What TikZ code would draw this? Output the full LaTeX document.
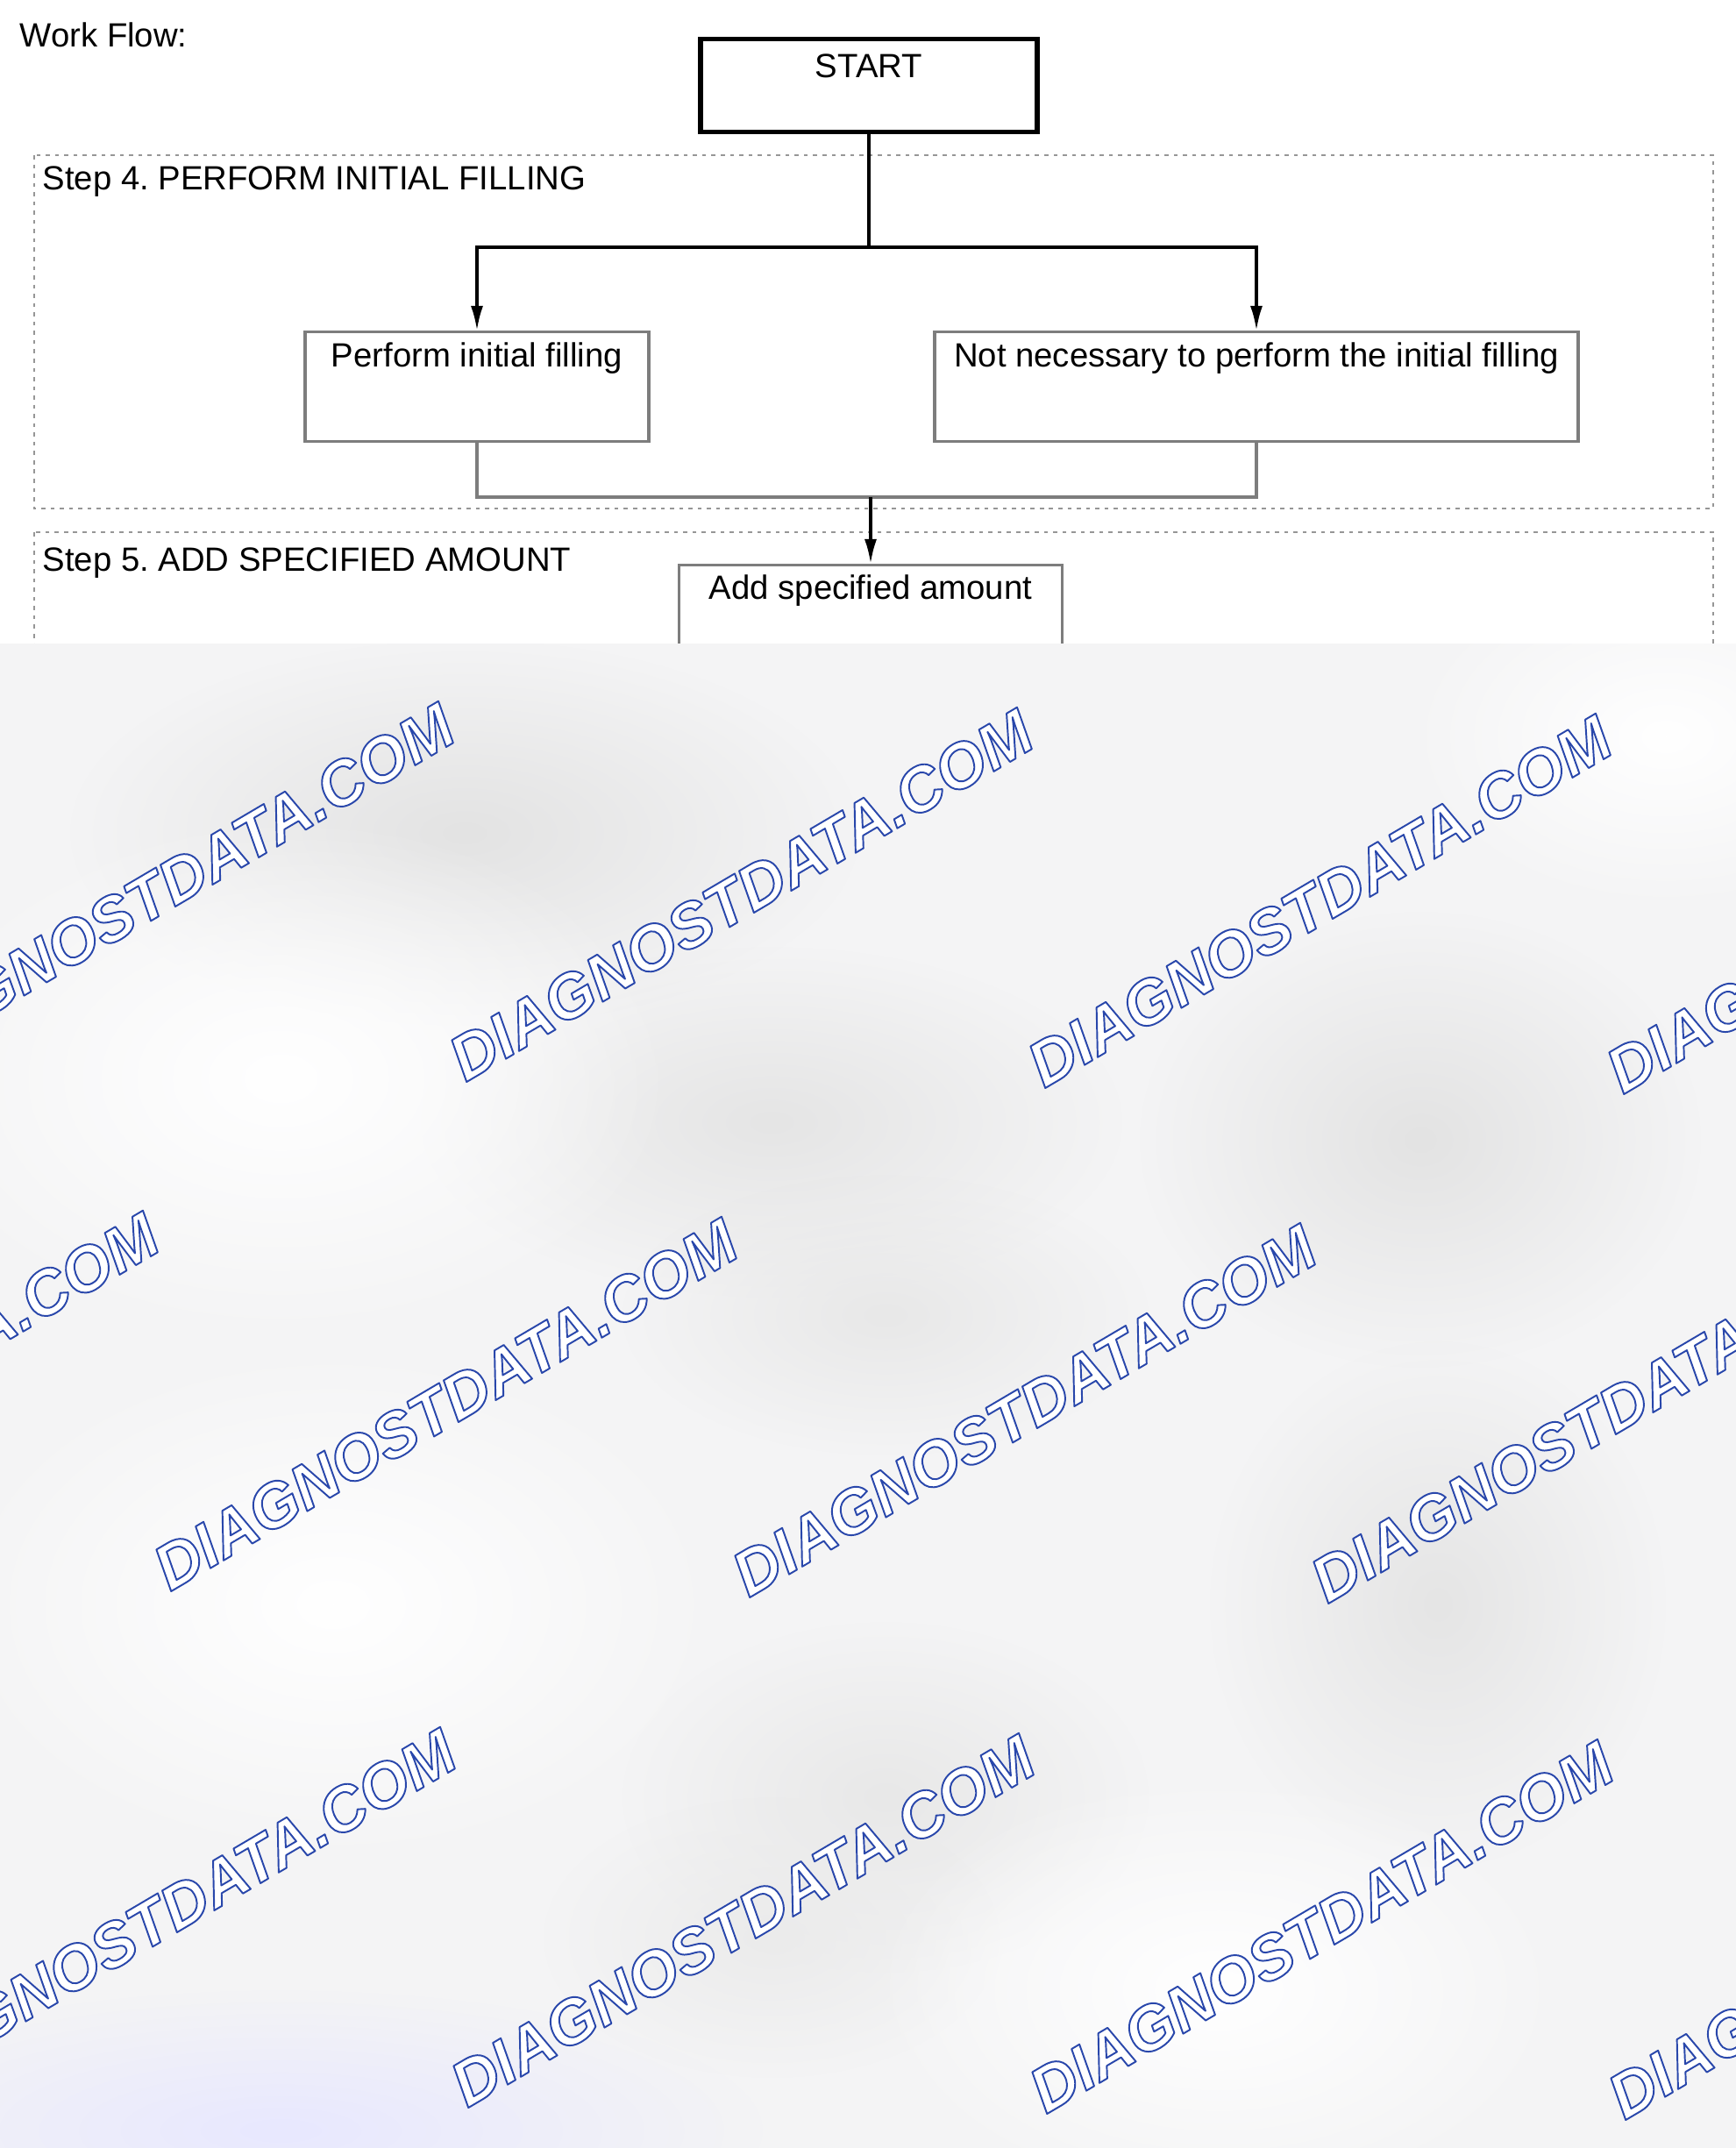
\documentclass[tikz,border=0pt]{standalone}
\usepackage{fontspec}
\setmainfont{Liberation Sans}
\usetikzlibrary{arrows.meta,positioning,fadings}
\frenchspacing

\definecolor{boxgrey}{RGB}{125,125,125}
\definecolor{framegrey}{RGB}{150,150,150}
\definecolor{bggrey}{RGB}{244,244,245}

% stroke the glyphs in blue, fill them in the text colour
\newcommand\outlined[1]{\special{pdf:literal direct 2 Tr 0.55 w 1 j 0.16 0.28 0.67 RG}#1\special{pdf:literal direct 0 Tr}}

\tikzfading[name=softblob, inner color=transparent!0, outer color=transparent!100]

\tikzset{
  flow/.style={line width=0.9pt, -{Latex[length=8pt,width=4pt]}},
  link/.style={line width=0.9pt},
  startbox/.style={draw, line width=1.5pt, anchor=north, minimum width=3.84cm,
    inner ysep=0.17cm, text height=0.27cm, text depth=0.45cm},
  procbox/.style={draw=boxgrey, line width=0.9pt, anchor=north,
    inner ysep=0.13cm, text height=0.27cm, text depth=0.72cm},
  stepframe/.style={draw=framegrey, line width=0.6pt, dash pattern=on 1.3pt off 1.7pt},
  steplabel/.style={anchor=base west, inner sep=0pt},
  wmtext/.style={font=\fontsize{20.5}{24}\selectfont\bfseries\itshape, text=white, rotate=30.5, inner sep=0pt}
}

\begin{document}
\begin{tikzpicture}[font=\fontsize{10.9}{13}\selectfont]
    \useasboundingbox (0,0) rectangle (19.8,-24.5);

    \node[steplabel] (title) at (0.22,-0.53) {Work Flow:};
    \node[startbox] (start) at (9.91,-0.42) {START};

    % step 4
    \draw[stepframe] (0.39,-1.77) rectangle (19.54,-5.80);
    \node[steplabel] (step4) at (0.48,-2.16) {Step 4. PERFORM INITIAL FILLING};

    \node[procbox, minimum width=3.92cm] (perf) at (5.44,-3.77) {Perform initial filling};
    \node[procbox, minimum width=7.34cm] (skip) at (14.33,-3.77) {Not necessary to perform the initial filling};

    \coordinate (split) at (start.south |- 0,-2.82);
    \draw[link] (start) -- (split);
    \draw[flow] (split) -| (perf.north);
    \draw[flow] (split) -| (skip.north);

    % step 5
    \draw[stepframe] (0.39,-6.07) rectangle (19.54,-8.2);
    \node[steplabel] (step5) at (0.48,-6.51) {Step 5. ADD SPECIFIED AMOUNT};
    \node[procbox, minimum width=4.37cm, inner ysep=0.12cm] (add) at (9.93,-6.43) {Add specified amount};

    \coordinate (merge) at (add.north |- 0,-5.67);
    \draw[link, draw=boxgrey] (perf.south) |- (merge);
    \draw[link, draw=boxgrey] (skip.south) |- (merge);
    \draw[flow] (merge) -- (add.north);

    % watermark sheet
    \fill[bggrey] (0,-7.34) rectangle (19.8,-24.5);
    \begin{scope}
        \clip (0,-7.34) rectangle (19.8,-24.5);
        \foreach \bx/\by/\ba/\bb/\bc in {5.3/-9.5/4.5/2.2/black!11, 8.8/-12.8/4/2/black!10,
                16.2/-13/3.2/2.6/black!11, 10.1/-15/3/1.6/black!9, 16.4/-18.3/2.6/3/black!10,
                10.1/-20.5/3/2/black!9, 8.8/-22.1/2.6/1.6/black!8,
                3.2/-12.3/4.5/3/white, 3.8/-18.3/4.5/3/white, 13.9/-22.7/4/2.5/white, 19/-8.4/3/2/white,
                3.2/-24.3/5.5/1.6/blue!9}
            \fill[\bc, path fading=softblob] (\bx,\by) ellipse (\ba cm and \bb cm);
        \foreach \rx/\ry [count=\r] in {1.85/-10.14, -1.52/-15.95, 1.87/-21.84}
            \foreach \c in {0,...,3}
                \node[wmtext] (wm-\r-\c) at (\rx+6.6*\c, \ry-0.07*\c) {\outlined{DIAGNOSTDATA.COM}};
    \end{scope}
\end{tikzpicture}
\end{document}
